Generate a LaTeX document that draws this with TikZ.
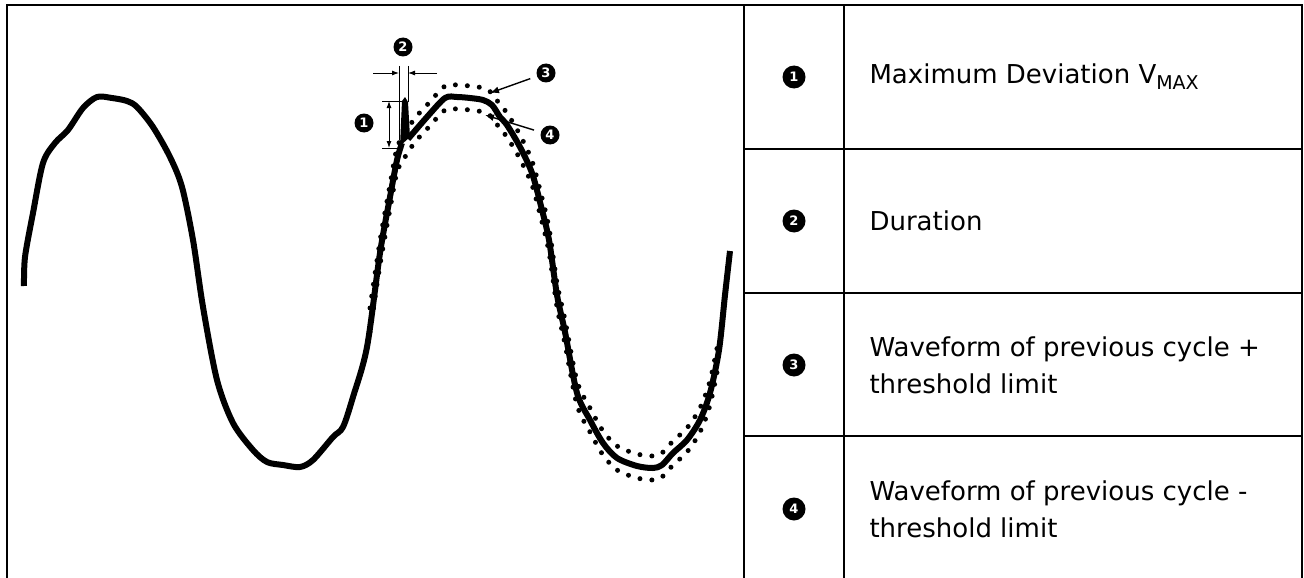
\documentclass[tikz,border=0pt]{standalone}
\usepackage{fontspec}
\setmainfont{DejaVu Sans}
\usetikzlibrary{arrows.meta}
\tikzset{
  num/.style={circle,fill=black,text=white,inner sep=0pt,minimum size=20pt,font=\bfseries\fontsize{13}{13}\selectfont},
  item/.style={anchor=west,align=left,font=\fontsize{26}{37}\selectfont},
  frame/.style={line width=2.5pt},
  wave/.style={line width=6pt,line join=round},
  limit/.style={line width=5pt,line cap=round,dash pattern=on 0pt off 12pt},
  dim/.style={line width=0.9pt},
  tip/.style={line width=1.4pt,-{Latex[length=9pt,width=7pt]},shorten <=7pt}
}
\begin{document}
\begin{tikzpicture}[x=1pt,y=-1pt]
  \useasboundingbox (0,0) rectangle (1304,578);
  % frame and table
  \draw[frame] (7,578) -- (7,5) -- (1302,5) -- (1302,578);
  \draw[frame] (744,5) -- (744,578) (844,5) -- (844,578);
  \foreach \y in {149,293,436}
    \draw[frame] (744,\y) -- (1302,\y);
  \node[num,minimum size=23pt] (k1) at (794,77) {1};
  \node[num,minimum size=23pt] (k2) at (794,221) {2};
  \node[num,minimum size=23pt] (k3) at (794,365) {3};
  \node[num,minimum size=23pt] (k4) at (794,509) {4};
  \node[item] (t1) at (866,77) {Maximum Deviation V\raisebox{-6pt}{\fontsize{19}{19}\selectfont MAX}};
  \node[item] (t2) at (866,221) {Duration};
  \node[item] (t3) at (866,365) {Waveform of previous cycle +\\threshold limit};
  \node[item] (t4) at (866,509) {Waveform of previous cycle -\\threshold limit};
  % previous cycle +/- threshold
  \foreach \s in {-12,12}
    \draw[limit,shift={(0,\s)}] plot[smooth] coordinates {(370,320) (380,253) (390,197)
      (397,160) (405,145) (415,130) (427,117) (445,98) (457,97) (470,98) (483,100)
      (492,105) (500,117) (507,125) (520,147) (532,173) (541,206) (549,240) (557,295)
      (565,332) (577,393) (590,420) (603,443) (617,458) (637,466) (653,468) (662,465)
      (673,453) (687,440) (700,420) (710,393) (719,350)};
  % measured waveform
  \draw[wave] plot[smooth] coordinates {(24,286) (25,257) (33,213) (43,163) (55,143)
    (68,130) (83,108) (97,97) (112,98) (127,101) (137,107) (153,127) (170,157)
    (182,187) (193,240) (203,307) (217,380) (233,423) (253,450) (267,462) (283,465)
    (300,467) (313,460) (333,437) (343,427) (353,397) (367,347) (380,253) (390,197)
    (397,160) (402,143)};
  \fill[line join=round] (400,146) -- (402,101) -- (405,97) -- (408,102) -- (410,137) -- cycle;
  \draw[wave] plot[smooth] coordinates {(408,139) (427,117) (445,98) (457,97)
    (470,98) (483,100) (492,105) (500,117) (507,125) (520,147) (532,173) (541,206)
    (549,240) (557,295) (565,332) (577,393) (590,420) (603,443) (617,458) (637,466)
    (653,468) (662,465) (673,453) (687,440) (700,420) (710,393) (719,350) (725,295)
    (730,251)};
  % callout 1
  \coordinate (d1t) at (389,101);
  \coordinate (d1b) at (389,148);
  \draw[dim] (382,101) -- (404,101) (382,148) -- (400,148);
  \draw[dim,{Latex[length=7pt,width=5pt]}-{Latex[length=7pt,width=5pt]}] (d1t) -- (d1b);
  \node[num,minimum size=19pt] (n1) at (364,123) {1};
  % callout 2
  \draw[dim] (399,66) -- (399,140) (408,66) -- (408,102);
  \coordinate (d2l) at (399,73);
  \coordinate (d2r) at (408,73);
  \draw[dim,-{Latex[length=7pt,width=5pt]}] (373,73) -- (d2l);
  \draw[dim,-{Latex[length=7pt,width=5pt]}] (437,73) -- (d2r);
  \node[num,minimum size=19pt] (n2) at (403,47) {2};
  % callouts 3 and 4
  \node[num,minimum size=19pt] (n3) at (546,73) {3};
  \node[num,minimum size=19pt] (n4) at (550,135) {4};
  \coordinate (p3) at (490,93);
  \coordinate (p4) at (485,115);
  \draw[tip] (n3) -- (p3);
  \draw[tip] (n4) -- (p4);
\end{tikzpicture}
\end{document}
